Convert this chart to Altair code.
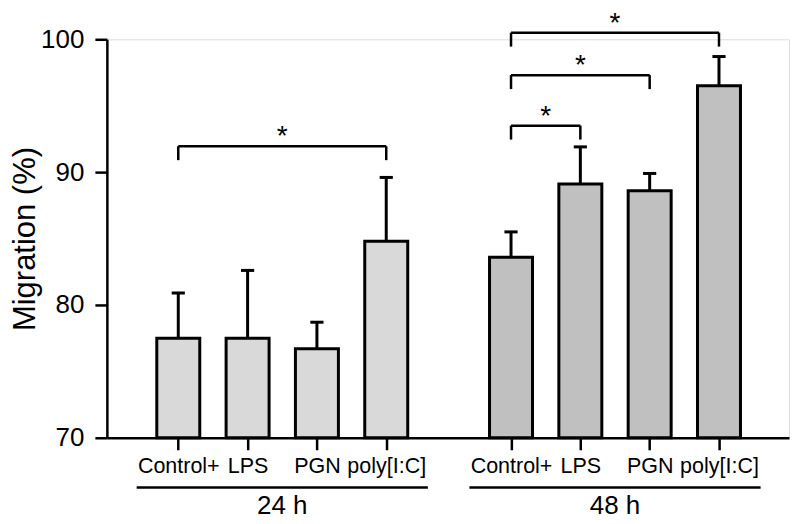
import altair as alt
import pandas as pd

# ---- data ----
groups = ["24 h", "48 h"]
treatments = ["Control+", "LPS", "PGN", "poly[I:C]"]
mean_24 = [77.5, 77.5, 76.7, 84.8]
err_24 = [3.4, 5.1, 2.0, 4.8]
mean_48 = [83.6, 89.1, 88.6, 96.5]
err_48 = [1.9, 2.8, 1.3, 2.2]

sig_group = ["24 h", "48 h", "48 h", "48 h"]
sig_from = ["Control+", "Control+", "Control+", "Control+"]
sig_to = ["poly[I:C]", "LPS", "PGN", "poly[I:C]"]
sig_height = [91.95, 93.5, 97.3, 100.5]
sig_label = ["*", "*", "*", "*"]

# ---- layout helpers (slot index within group + group offset) ----
GROUP_STEP = 4.8
HALF_BAR = 0.31
CAP = 0.095
DROP = 1.05
FONT = "Liberation Sans"


def pos_of(group, treat):
    return groups.index(group) * GROUP_STEP + treatments.index(treat)


rows = []
for g, means, errs in [(groups[0], mean_24, err_24), (groups[1], mean_48, err_48)]:
    for t, m, e in zip(treatments, means, errs):
        p = pos_of(g, t)
        rows.append(dict(group=g, treatment=t, mean=m, top=m + e, pos=p))
bars_df = pd.DataFrame(rows)

sig_rows = []
for g, a, b, h, lab in zip(sig_group, sig_from, sig_to, sig_height, sig_label):
    pa, pb = pos_of(g, a), pos_of(g, b)
    sig_rows.append(dict(x1=pa, x2=pb, mid=(pa + pb) / 2, h=h, low=h - DROP, label=lab))
sig_df = pd.DataFrame(sig_rows)

grp_rows = []
for g in groups:
    first = pos_of(g, treatments[0])
    last = pos_of(g, treatments[-1])
    grp_rows.append(dict(group=g, a=first - 0.6, b=last + 0.6, mid=(first + last) / 2,
                         line_y=66.25, text_y=64.25))
grp_df = pd.DataFrame(grp_rows)

tick_values = [pos_of(g, t) for g in groups for t in treatments]
arr = "[" + ",".join("'" + t + "'" for t in treatments) + "]"
label_expr = f"{arr}[round(datum.value - (datum.value > 3.5 ? {GROUP_STEP} : 0))]"

xscale = alt.Scale(domain=[-1.03, 8.81], nice=False, zero=False)
yscale = alt.Scale(domain=[70, 100], nice=False, zero=False)

x_axis = alt.Axis(values=tick_values, labelExpr=label_expr, title=None, grid=False,
                  domainColor="black", domainWidth=2.5, tickColor="black", tickWidth=2.5,
                  tickSize=12, labelFont=FONT, labelFontSize=21.5, labelColor="black",
                  labelPadding=6, labelOverlap=False, labelFlush=False)
y_axis = alt.Axis(values=[70, 80, 90, 100], title="Migration (%)", grid=False,
                  domainColor="black", domainWidth=2.5, tickColor="black", tickWidth=2.5,
                  tickSize=12, labelFont=FONT, labelFontSize=26, labelColor="black",
                  labelPadding=11, titleFont=FONT, titleFontSize=31, titleFontWeight="normal",
                  titleColor="black", titlePadding=-1)

base = alt.Chart(bars_df)

bars = base.mark_bar(stroke="black", strokeWidth=3).encode(
    x=alt.X("left:Q", scale=xscale, axis=x_axis),
    x2="right:Q",
    y=alt.Y("mean:Q", scale=yscale, axis=y_axis),
    y2=alt.datum(70),
    color=alt.Color("group:N", scale=alt.Scale(domain=groups, range=["#d9d9d9", "#c0c0c0"]),
                    legend=None),
).transform_calculate(left=f"datum.pos - {HALF_BAR}", right=f"datum.pos + {HALF_BAR}")

whisker = base.mark_rule(color="black", strokeWidth=3).encode(
    x=alt.X("pos:Q", scale=xscale), y=alt.Y("mean:Q", scale=yscale), y2="top:Q"
)
caps = base.mark_rule(color="black", strokeWidth=3).encode(
    x=alt.X("cl:Q", scale=xscale), x2="cr:Q", y=alt.Y("top:Q", scale=yscale)
).transform_calculate(cl=f"datum.pos - {CAP}", cr=f"datum.pos + {CAP}")

sig = alt.Chart(sig_df)
br_h = sig.mark_rule(color="black", strokeWidth=2.5).encode(
    x=alt.X("x1:Q", scale=xscale), x2="x2:Q", y=alt.Y("h:Q", scale=yscale)
)
br_l = sig.mark_rule(color="black", strokeWidth=2.5).encode(
    x=alt.X("x1:Q", scale=xscale), y=alt.Y("h:Q", scale=yscale), y2="low:Q"
)
br_r = sig.mark_rule(color="black", strokeWidth=2.5).encode(
    x=alt.X("x2:Q", scale=xscale), y=alt.Y("h:Q", scale=yscale), y2="low:Q"
)
stars = sig.mark_text(font=FONT, fontSize=28, color="black", baseline="alphabetic", dy=-1).encode(
    x=alt.X("mid:Q", scale=xscale), y=alt.Y("h:Q", scale=yscale), text="label:N"
)

grp = alt.Chart(grp_df)
grp_line = grp.mark_rule(color="black", strokeWidth=2.5).encode(
    x=alt.X("a:Q", scale=xscale), x2="b:Q", y=alt.Y("line_y:Q", scale=yscale)
)
grp_text = grp.mark_text(font=FONT, fontSize=26, color="black", baseline="alphabetic").encode(
    x=alt.X("mid:Q", scale=xscale), y=alt.Y("text_y:Q", scale=yscale), text="group:N"
)

chart = alt.layer(bars, whisker, caps, br_h, br_l, br_r, stars, grp_line, grp_text).properties(
    width=683, height=399,
    autosize=alt.AutoSizeParams(type="none"),
    padding={"left": 99, "top": 31, "right": 2, "bottom": 84},
).configure_view(stroke=None).configure(background="white")

chart.save("out.html", embed_options={"renderer": "svg", "actions": False})
